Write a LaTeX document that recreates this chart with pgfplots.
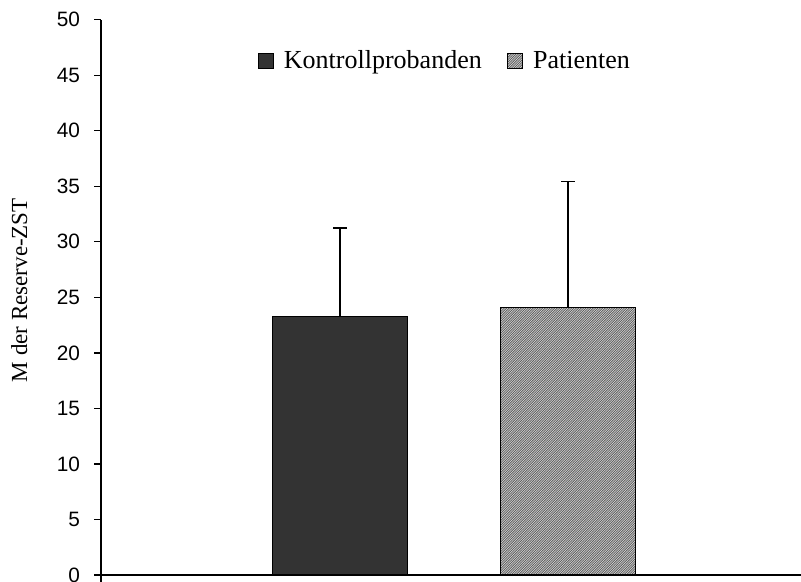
\documentclass[border=0pt]{standalone}
\usepackage{fontspec}
\setmainfont{Liberation Serif}
\newfontfamily\arial{Liberation Sans}
\usepackage{pgfplots}
\pgfplotsset{compat=1.18}
\usetikzlibrary{patterns}
\pgfdeclarepatternformonly{finehatch}{\pgfqpoint{-0.1pt}{-0.1pt}}{\pgfqpoint{1.3pt}{1.3pt}}{\pgfqpoint{1.2pt}{1.2pt}}{%
  \pgfsetlinewidth{0.4pt}%
  \pgfpathmoveto{\pgfqpoint{-0.1pt}{-0.1pt}}%
  \pgfpathlineto{\pgfqpoint{1.3pt}{1.3pt}}%
  \pgfusepath{stroke}}
\definecolor{darkbar}{HTML}{333333}
\begin{document}
\begin{tikzpicture}
\begin{axis}[
  scale only axis,
  width=350pt, height=277.65pt,
  xmin=0, xmax=700, ymin=0, ymax=50,
  axis lines*=left,
  axis line style={line width=0.65pt, -},
  ytick={0,5,...,50},
  xtick={0}, xticklabels={},
  tick align=outside,
  major tick length=3.5pt,
  tick style={line width=0.65pt, black},
  yticklabel style={font=\arial\fontsize{10.4}{12}\selectfont, xshift=-3.5pt},
  /pgf/number format/assume math mode=true,
  ylabel={M der Reserve-ZST},
  ylabel style={font=\fontsize{11.5}{14}\selectfont, at={(axis description cs:-0.1057,0.513)}, anchor=base, inner sep=0pt},
  ybar, bar width=135, bar shift=0pt,
  legend columns=2,
  legend style={draw=none, fill=none, at={(0.4925,0.9256)}, anchor=center,
    font=\fontsize{13}{16}\selectfont,
    /tikz/every odd column/.append style={column sep=3pt},
    /tikz/every even column/.append style={column sep=10.5pt}},
  legend image code/.code={\draw[#1, line width=0.65pt] (0pt,-3.75pt) rectangle (7.5pt,3.75pt);},
  error bars/y dir=plus, error bars/y explicit,
  error bars/error bar style={line width=0.65pt, black},
  error bars/error mark options={black, line width=0.65pt, mark size=3.5pt, rotate=90},
  clip=false,
]
\addplot[draw=black, line width=0.65pt, fill=darkbar] coordinates {(239,23.3) +- (0,7.95)};
\addlegendentry{Kontrollprobanden}
\addplot[draw=black, line width=0.65pt, fill=gray!25, postaction={pattern=finehatch, pattern color=gray!75!black}] coordinates {(467,24.1) +- (0,11.3)};
\addlegendentry{Patienten}
\end{axis}
\pgfresetboundingbox
\path (-50.5pt,-3.5pt) rectangle (350pt,287.5pt);
\end{tikzpicture}
\end{document}
